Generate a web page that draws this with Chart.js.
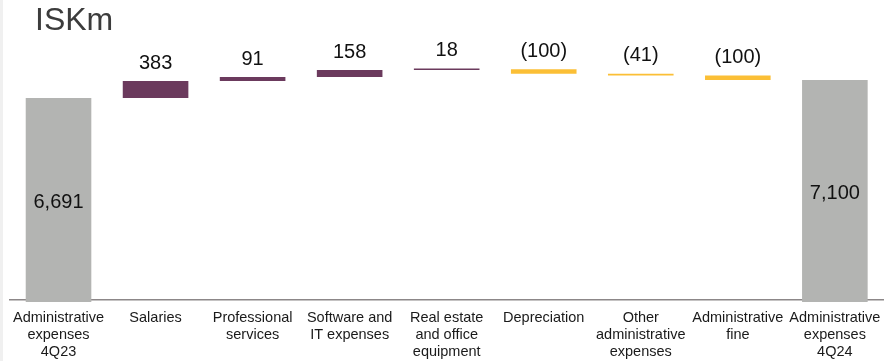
<!DOCTYPE html>
<html>
<head>
<meta charset="utf-8">
<script src="https://cdn.jsdelivr.net/npm/chart.js@4"></script>
<style>
    html, body { margin: 0; padding: 0; background: #fff; overflow: hidden; }
    #wrap { position: relative; width: 884px; height: 361px; overflow: hidden; }
    #strip { position: absolute; left: 0; top: 0; width: 3px; height: 361px; background: #f0f0f0; }
    #unit { position: absolute; left: 35px; top: 3px; font: 32px "Liberation Sans", Arial, sans-serif; line-height: 32px; color: #3c3c3c; }
    #box { position: absolute; left: 0; top: 0; width: 890px; height: 361px; }
</style>
</head>
<body>
<div id="wrap">
    <div id="box"><canvas id="chart" width="890" height="361"></canvas></div>
    <div id="strip"></div>
    <div id="unit">ISKm</div>
</div>
<script>
// Data
const categories = [
    ['Administrative', 'expenses', '4Q23'],
    'Salaries',
    ['Professional', 'services'],
    ['Software and', 'IT expenses'],
    ['Real estate', 'and office', 'equipment'],
    'Depreciation',
    ['Other', 'administrative', 'expenses'],
    ['Administrative', 'fine'],
    ['Administrative', 'expenses', '4Q24']
];
const openingTotal = 6691;
const changes = [383, 91, 158, 18, -100, -41, -100];
const closingTotal = 7100;

const GREY = '#b3b4b2';
const PURPLE = '#6b3a5d';
const YELLOW = '#fbbf36';

// Build floating ranges for the waterfall
const ranges = [[0, openingTotal]];
const colors = [GREY];
let running = openingTotal;
changes.forEach(c => {
    ranges.push([running, running + c]);
    colors.push(c >= 0 ? PURPLE : YELLOW);
    running += c;
});
ranges.push([0, closingTotal]);
colors.push(GREY);

const values = [openingTotal, ...changes, closingTotal];
const isTotal = (i) => i === 0 || i === values.length - 1;

function fmt(v, total) {
    if (total) return v.toLocaleString('en-US');
    return v < 0 ? `(${Math.abs(v)})` : `${v}`;
}

// Value labels
const valueLabels = {
    id: 'valueLabels',
    afterDatasetsDraw(chart) {
        const { ctx, chartArea } = chart;
        const meta = chart.getDatasetMeta(0);
        ctx.save();
        ctx.font = '20px "Liberation Sans", Arial, sans-serif';
        ctx.fillStyle = '#111';
        ctx.textAlign = 'center';
        ctx.textBaseline = 'middle';
        meta.data.forEach((bar, i) => {
            const top = Math.min(bar.y, bar.base);
            if (isTotal(i)) {
                const mid = (top + chartArea.bottom) / 2 + 4;
                ctx.fillText(fmt(values[i], true), bar.x, mid);
            } else {
                ctx.fillText(fmt(values[i], false), bar.x, top - 18);
            }
        });
        ctx.restore();
    }
};

new Chart(document.getElementById('chart'), {
    type: 'bar',
    data: {
        labels: categories,
        datasets: [{
            data: ranges,
            backgroundColor: colors,
            borderWidth: 0,
            categoryPercentage: 1,
            barPercentage: 0.676,
            minBarLength: 1.5,
            clip: { left: 5, top: 5, right: 5, bottom: 2 }
        }]
    },
    options: {
        responsive: false,
        animation: false,
        devicePixelRatio: 1,
        layout: { padding: { left: 10, right: 2, top: 40, bottom: 0 } },
        plugins: {
            legend: { display: false },
            tooltip: { enabled: false }
        },
        scales: {
            x: {
                afterFit: (scale) => { scale.height = 61; },
                grid: { display: false, drawTicks: false },
                border: { display: true, color: '#8c8788', width: 1.5 },
                ticks: {
                    color: '#1a1a1a',
                    padding: 9.5,
                    maxRotation: 0,
                    autoSkip: false,
                    font: { family: '"Liberation Sans", Arial, sans-serif', size: 14.5, lineHeight: 17 / 14.5 }
                }
            },
            y: {
                display: false,
                min: 2100,
                max: 8007
            }
        }
    },
    plugins: [valueLabels]
});
</script>
</body>
</html>
